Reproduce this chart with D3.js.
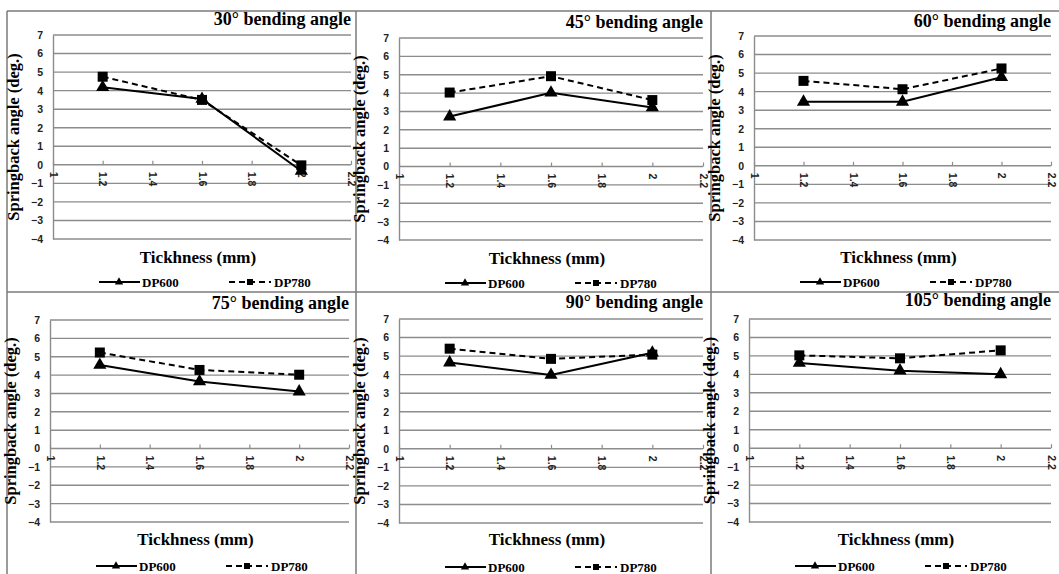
<!DOCTYPE html>
<html>
<head>
<meta charset="utf-8">
<script src="https://cdn.jsdelivr.net/npm/d3@7"></script>
<style>
body { margin: 0; background: #fff; }
.serif { font-family: "Liberation Serif", "Times New Roman", serif; font-weight: bold; fill: #000; }
.tick text { font-family: "Liberation Sans", Arial, sans-serif; font-weight: bold; font-size: 10.5px; fill: #222; }
</style>
</head>
<body>
<script>
// bending angles, one panel each
var angles = [30, 45, 60, 75, 90, 105];
var thickness = [1.2, 1.6, 2];
var dp600 = [
  [4.18, 3.55, -0.33],
  [2.72, 4.02, 3.22],
  [3.45, 3.45, 4.78],
  [4.55, 3.65, 3.10],
  [4.65, 3.98, 5.18],
  [4.62, 4.20, 4.00]
];
var dp780 = [
  [4.75, 3.50, -0.03],
  [4.03, 4.92, 3.62],
  [4.58, 4.13, 5.25],
  [5.23, 4.28, 4.02],
  [5.40, 4.85, 5.08],
  [5.03, 4.87, 5.30]
];
var xTicks = [1, 1.2, 1.4, 1.6, 1.8, 2, 2.2];
var yTicks = [-4, -3, -2, -1, 0, 1, 2, 3, 4, 5, 6, 7];

var W = 1059, H = 574;

// plot boxes of each panel (left,right,top,bottom)
var boxes = [
  {l: 53,  r: 351,  t: 35,  b: 239, ty: 25,  xt: 263, lg: 282},
  {l: 399, r: 703,  t: 38,  b: 240, ty: 28,  xt: 264, lg: 283},
  {l: 754, r: 1051, t: 36,  b: 240, ty: 27,  xt: 263, lg: 282},
  {l: 50,  r: 349,  t: 320, b: 522, ty: 309, xt: 545, lg: 566},
  {l: 399, r: 703,  t: 319, b: 523, ty: 308, xt: 545, lg: 567},
  {l: 749, r: 1051, t: 319, b: 522, ty: 306, xt: 545, lg: 566}
];

var svg = d3.select("body").append("svg")
  .attr("width", W)
  .attr("height", H);

// panel frame lines
var frame = svg.append("g").attr("stroke", "#7a7a7a").attr("stroke-width", 1.5);
frame.append("line").attr("x1", 7).attr("x2", W).attr("y1", 11).attr("y2", 11);
frame.append("line").attr("x1", 7).attr("x2", W).attr("y1", 292).attr("y2", 292);
[7, 356, 711].forEach(function(x) {
  frame.append("line").attr("x1", x).attr("x2", x).attr("y1", 11).attr("y2", H);
});

var tri = d3.symbol().type(d3.symbolTriangle);
var sq = d3.symbol().type(d3.symbolSquare);

angles.forEach(function(a, i) {
  var bx = boxes[i];
  var x = d3.scaleLinear().domain([1, 2.2]).range([bx.l, bx.r]);
  var y = d3.scaleLinear().domain([-4, 7]).range([bx.b, bx.t]);
  var g = svg.append("g");

  // gridlines
  g.append("g").selectAll("line")
    .data(yTicks)
    .enter().append("line")
    .attr("x1", bx.l).attr("x2", bx.r)
    .attr("y1", function(d) { return y(d); })
    .attr("y2", function(d) { return y(d); })
    .attr("stroke", "#8c8c8c")
    .attr("stroke-width", 1.4);

  // y axis
  var ya = g.append("g")
    .attr("transform", "translate(" + bx.l + ",0)")
    .call(d3.axisLeft(y).tickValues(yTicks).tickSize(0).tickPadding(10).tickFormat(d3.format("d")));
  ya.select(".domain").attr("stroke", "#8c8c8c").attr("stroke-width", 1.4);

  // x axis on the zero line
  var xa = g.append("g")
    .attr("transform", "translate(0," + y(0) + ")")
    .call(d3.axisBottom(x).tickValues(xTicks).tickSize(-4).tickFormat(function(d) { return d; }));
  xa.select(".domain").remove();
  xa.selectAll(".tick line").attr("stroke", "#8c8c8c").attr("stroke-width", 1.2);
  xa.selectAll(".tick text")
    .attr("transform", "rotate(90)")
    .attr("x", 7).attr("y", 0)
    .attr("dy", "0.35em")
    .style("text-anchor", "start");

  // series lines
  var line = d3.line()
    .x(function(d, j) { return x(thickness[j]); })
    .y(function(d) { return y(d); });

  g.append("path").datum(dp780[i])
    .attr("d", line)
    .attr("fill", "none").attr("stroke", "#000")
    .attr("stroke-width", 2).attr("stroke-dasharray", "6,4");
  g.append("path").datum(dp600[i])
    .attr("d", line)
    .attr("fill", "none").attr("stroke", "#000")
    .attr("stroke-width", 2);

  g.selectAll(".sq").data(dp780[i]).enter().append("path")
    .attr("class", "sq")
    .attr("d", sq.size(100))
    .attr("transform", function(d, j) { return "translate(" + x(thickness[j]) + "," + y(d) + ")"; })
    .attr("fill", "#000");
  g.selectAll(".tri").data(dp600[i]).enter().append("path")
    .attr("class", "tri")
    .attr("d", tri.size(75))
    .attr("transform", function(d, j) { return "translate(" + x(thickness[j]) + "," + y(d) + ")"; })
    .attr("fill", "#000");

  // titles
  g.append("text").attr("class", "serif")
    .attr("x", bx.r).attr("y", bx.ty)
    .attr("text-anchor", "end")
    .style("font-size", "18px")
    .text(a + "\u00b0 bending angle");

  g.append("text").attr("class", "serif")
    .attr("x", (bx.l + bx.r) / 2 - 4).attr("y", bx.xt)
    .attr("text-anchor", "middle")
    .style("font-size", "17px")
    .text("Tickhness (mm)");

  g.append("text").attr("class", "serif")
    .attr("transform", "translate(" + (bx.l - 34) + "," + ((bx.t + bx.b) / 2) + ") rotate(-90)")
    .attr("text-anchor", "middle")
    .style("font-size", "16.5px")
    .text("Springback angle (deg.)");

  // legend
  var lg = g.append("g").attr("transform", "translate(" + bx.l + "," + bx.lg + ")");
  lg.append("line").attr("x1", 46).attr("x2", 87).attr("stroke", "#000").attr("stroke-width", 2);
  lg.append("path").attr("d", tri.size(30)).attr("transform", "translate(66,0)").attr("fill", "#000");
  lg.append("text").attr("class", "serif").attr("x", 89).attr("y", 4.5).style("font-size", "13px").text("DP600");
  lg.append("line").attr("x1", 176).attr("x2", 218).attr("stroke", "#000").attr("stroke-width", 2).attr("stroke-dasharray", "6,4");
  lg.append("path").attr("d", sq.size(36)).attr("transform", "translate(197,0)").attr("fill", "#000");
  lg.append("text").attr("class", "serif").attr("x", 221).attr("y", 4.5).style("font-size", "13px").text("DP780");
});
</script>
</body>
</html>
